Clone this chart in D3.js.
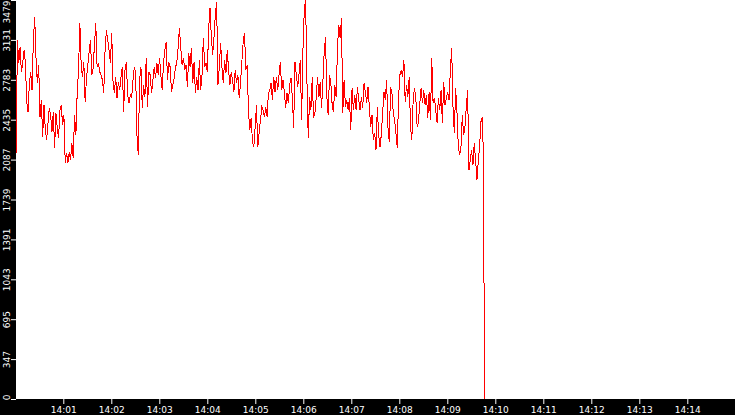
<!DOCTYPE html>
<html><head><meta charset="utf-8">
<script src="https://cdn.jsdelivr.net/npm/d3@7"></script>
<style>html,body{margin:0;padding:0;background:#fff;overflow:hidden}</style>
</head><body>
<svg id="chart" width="735" height="415"></svg>
<script>
// ---- data ----
const yMax = 3479;
const yTickLabels = ["0","347","695","1043","1391","1739","2087","2435","2783","3131","3479"];
const xTickLabels = ["14:01","14:02","14:03","14:04","14:05","14:06","14:07","14:08","14:09","14:10","14:11","14:12","14:13","14:14"];
const startClock = [14, 0, 1];      // first sample time
const stepSeconds = 1.66;           // sample interval
const values = [
2145,3130,2930,3069,2851,2938,3043,2930,2590,2502,2755,2851,2694,3130,3331,2973,2755,2912,2459,2607,
2284,2563,2345,2258,2406,2537,2476,2328,2502,2189,2494,2363,2276,2520,2563,2389,2476,2058,2145,2058,
2154,2084,2232,2101,2476,2302,2668,2869,3278,2912,2808,2938,2590,2799,2912,3026,3130,2825,2886,3087,
3278,2895,2930,2851,2825,2781,2668,3043,3217,3130,3043,2930,3191,2764,2668,2808,2624,2764,2694,2808,
2895,2502,2869,2938,2651,2581,2651,2624,2781,2895,2851,2302,2127,2781,2895,2537,2738,2633,2973,2546,
2851,2825,2668,2781,2895,2799,2930,2825,2973,2825,2694,2930,3043,3113,2781,2938,2895,2677,2738,2799,
2886,2938,3060,3235,3060,2912,2973,2869,2912,2720,3017,2895,3060,2755,2938,2668,2808,2694,2956,2694,
2825,3148,2895,2930,2851,3235,3409,3156,2999,3148,3348,3462,2738,2895,3104,2895,2755,2956,2842,3043,
2869,2738,2851,2781,2677,2869,2755,2825,2624,2755,2938,3113,3191,2869,2912,2502,2345,2450,2241,2197,2372,
2563,2197,2319,2433,2546,2520,2459,2546,2459,2668,2694,2755,2607,2808,2677,2808,2694,2825,2938,2694,
2781,2677,2537,2668,2581,2738,2799,2633,2363,2938,2825,2720,2825,2956,2433,3043,3392,3479,2781,2276,
2633,2520,2808,2450,2494,2633,2808,2633,2764,2537,2764,3026,3156,2633,2476,2825,2755,2563,2502,2738,2633,
3069,3261,3148,3322,2494,2781,2546,2607,2520,2624,2345,2712,2520,2651,2520,2720,2607,2520,2633,2537,
2755,2677,2581,2720,2546,2372,2476,2258,2319,2171,2546,2302,2197,2302,2494,2677,2607,2781,2372,2241,
2720,2668,2494,2433,2319,2189,2624,2825,2869,2808,2956,2590,2738,2633,2808,2372,2258,2607,2712,2624,
2372,2415,2581,2712,2581,2694,2563,2651,2450,2677,2433,2973,2581,2624,2520,2406,2624,2520,2694,2406,
2764,2563,2624,2677,2607,2869,3060,2546,2319,2712,2494,2197,2127,2197,2476,2302,2372,2546,2694,1997,
2084,2171,2040,2232,2084,1909,2066,2197,2415,2459,2084
];
const tailValues = [950, 0];        // final drop
const tailOffsets = [0.6, 1.0];     // seconds after last sample

// ---- chart ----
const W = 735, H = 415;
const plotLeft = 16, plotBottom = 399;
const svg = d3.select("#chart");

const t0 = new Date(2024, 0, 1, 14, 0, 0);
const t1 = new Date(2024, 0, 1, 14, 15, 0);
const x = d3.scaleTime().domain([t0, t1]).range([15.3, 735.3]);
const y = d3.scaleLinear().domain([0, yMax]).range([plotBottom, 0]);

const start = new Date(2024, 0, 1, startClock[0], startClock[1], startClock[2]);
const pts = values.map((v, i) => ({t: new Date(start.getTime() + i * stepSeconds * 1000), v}));
const lastT = pts[pts.length - 1].t.getTime();
tailValues.forEach((v, i) => pts.push({t: new Date(lastT + tailOffsets[i] * 1000), v}));

svg.append("rect").attr("width", W).attr("height", H).attr("fill", "#fff");

svg.append("path")
  .datum(pts)
  .attr("fill", "none")
  .attr("stroke", "#ff0000")
  .attr("stroke-width", 1)
  .attr("shape-rendering", "crispEdges")
  .attr("d", d3.line().x(d => x(d.t)).y(d => y(d.v)));

// black frame bands
svg.append("rect").attr("x", 0).attr("y", 0).attr("width", plotLeft).attr("height", H).attr("fill", "#000");
svg.append("rect").attr("x", 0).attr("y", plotBottom).attr("width", W).attr("height", H - plotBottom).attr("fill", "#000");

// y axis
const yTicks = yTickLabels.map((_, i) => i * yMax / 10);
const yAxis = svg.append("g")
  .attr("transform", `translate(${plotLeft},0)`)
  .style("color", "#fff")
  .call(d3.axisLeft(y).tickValues(yTicks).tickSize(5).tickFormat((d, i) => yTickLabels[i]));
yAxis.select(".domain").remove();
yAxis.selectAll("text")
  .attr("x", null).attr("dy", null)
  .attr("text-anchor", "middle")
  .attr("font-family", "DejaVu Sans")
  .attr("font-size", 9)
  .attr("fill", "#fff")
  .attr("transform", d => {
    const py = y(d);
    const c = Math.max(11.5, Math.min(397, py));
    return `translate(-6.5,${c - py}) rotate(-90)`;
  });

// x axis
const xTicks = xTickLabels.map(s => { const [h, m] = s.split(":").map(Number); return new Date(2024, 0, 1, h, m, 0); });
const xAxis = svg.append("g")
  .attr("transform", `translate(0,${plotBottom})`)
  .style("color", "#fff")
  .call(d3.axisBottom(x).tickValues(xTicks).tickSize(5).tickFormat((d, i) => xTickLabels[i]));
xAxis.select(".domain").remove();
xAxis.selectAll("text")
  .attr("font-family", "DejaVu Sans")
  .attr("font-size", 9)
  .attr("fill", "#fff");
</script>
</body></html>
